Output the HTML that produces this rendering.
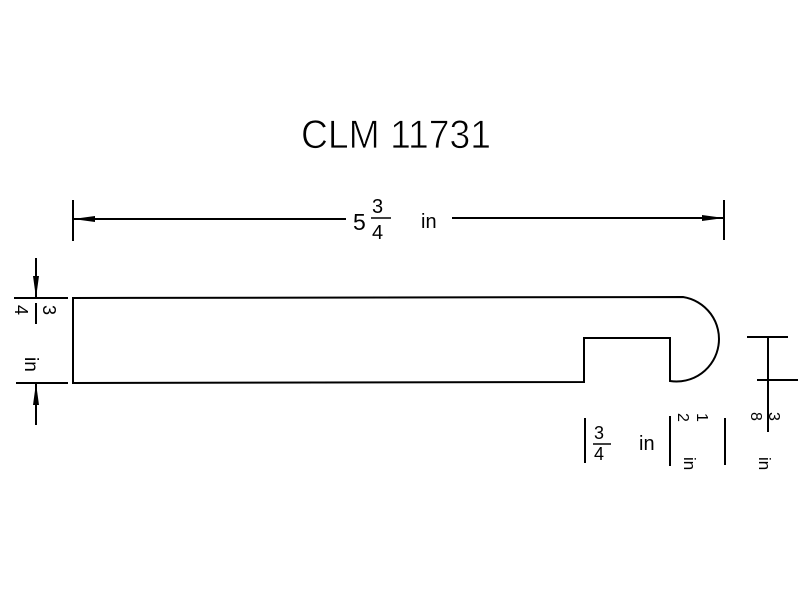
<!DOCTYPE html>
<html><head><style>
html,body{margin:0;padding:0;background:#fff;width:800px;height:600px;overflow:hidden}
</style></head><body>
<svg width="800" height="600" viewBox="0 0 800 600" xmlns="http://www.w3.org/2000/svg" font-family="Liberation Sans, sans-serif">
<rect width="800" height="600" fill="#fff"/>
<text x="301" y="148" font-size="40" fill="#000" stroke="#fff" stroke-width="0.8" textLength="190" lengthAdjust="spacingAndGlyphs">CLM 11731</text>
<g stroke="#000" stroke-width="2" fill="none">
  <line x1="73" y1="200" x2="73" y2="241"/>
  <line x1="724" y1="200" x2="724" y2="240"/>
  <line x1="73" y1="219" x2="346" y2="219"/>
  <line x1="452" y1="218" x2="724" y2="218"/>
  <path d="M73,298 L683,297 A42,42 0 0 1 670,381 L670,338 L584,338 L584,382 L73,383 Z"/>
  <line x1="14" y1="298" x2="68" y2="298"/>
  <line x1="16" y1="383" x2="68" y2="383"/>
  <line x1="36" y1="258" x2="36" y2="298"/>
  <line x1="36" y1="383" x2="36" y2="425"/>
  <line x1="36" y1="303" x2="36" y2="324"/>
  <line x1="747" y1="337" x2="788" y2="337"/>
  <line x1="757" y1="380" x2="798" y2="380"/>
  <line x1="768" y1="337" x2="768" y2="432"/>
  <line x1="585" y1="418" x2="585" y2="463"/>
  <line x1="670" y1="416" x2="670" y2="466"/>
  <line x1="725" y1="418" x2="725" y2="465"/>
</g>
<g fill="#000">
  <polygon points="73,219 95,216 95,222"/>
  <polygon points="724,218 702,215 702,221"/>
  <polygon points="36,298 33,276 39,276"/>
  <polygon points="36,383 33,405 39,405"/>
</g>
<g font-size="20" fill="#000">
  <text x="353" y="230" font-size="23">5</text>
  <text x="372" y="213" font-size="20">3</text>
  <line x1="371" y1="218" x2="391" y2="218" stroke="#000" stroke-width="1.5"/>
  <text x="372" y="239" font-size="20">4</text>
  <text x="421" y="228">in</text>
  <text x="594" y="439" font-size="18">3</text>
  <line x1="593" y1="444" x2="611" y2="444" stroke="#000" stroke-width="1.5"/>
  <text x="594" y="460" font-size="18">4</text>
  <text x="639" y="450">in</text>
</g>
<g fill="#000">
  <text transform="translate(43,305) rotate(90)" font-size="18">3</text>
  <text transform="translate(15,305) rotate(90)" font-size="18">4</text>
  <text transform="translate(25,357) rotate(90)" font-size="19">in</text>
  <text transform="translate(697,413) rotate(90)" font-size="16">1</text>
  <text transform="translate(678,413) rotate(90)" font-size="16">2</text>
  <text transform="translate(684,457) rotate(90)" font-size="17">in</text>
  <text transform="translate(769,412) rotate(90)" font-size="16">3</text>
  <text transform="translate(751,412) rotate(90)" font-size="16">8</text>
  <text transform="translate(759,457) rotate(90)" font-size="17">in</text>
</g>
</svg>
</body></html>
